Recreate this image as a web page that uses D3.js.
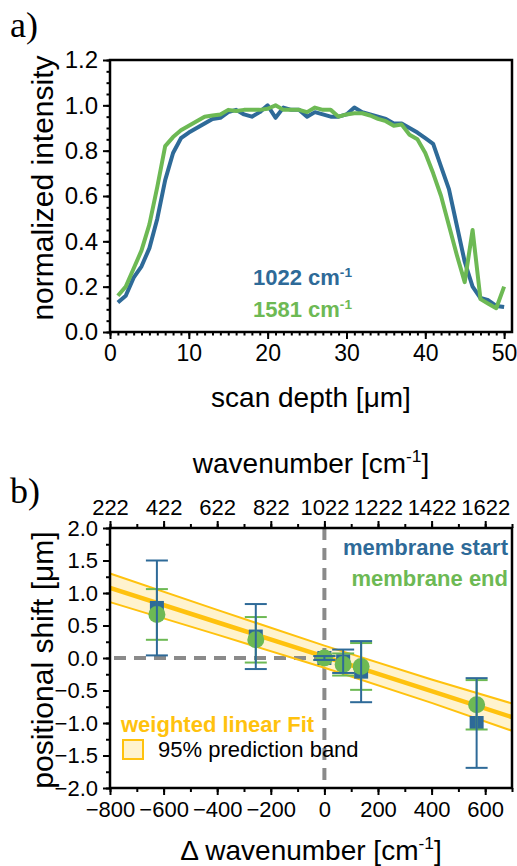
<!DOCTYPE html>
<html><head><meta charset="utf-8">
<script src="https://cdn.jsdelivr.net/npm/d3@7"></script>
<style>
body{margin:0;background:#fff}
svg{display:block}
</style>
</head><body>
<svg id="c" width="517" height="866" font-family="'Liberation Sans',Arial,sans-serif"></svg>
<script>
// ---------- panel a) data ----------
const depth = [1,2,3,4,5,6,7,8,9,10,11,12,13,14,15,16,17,18,19,20,21,22,23,24,25,26,27,28,29,30,31,32,33,34,35,36,37,38,39,40,41,42,43,44,45,46,47,48,49,50];
const int1022 = [0.13,0.16,0.24,0.29,0.37,0.50,0.67,0.79,0.855,0.88,0.90,0.92,0.94,0.945,0.97,0.98,0.96,0.95,0.97,1.00,0.945,0.99,0.98,0.98,0.95,0.97,0.96,0.95,0.95,0.96,0.99,0.97,0.96,0.95,0.94,0.92,0.92,0.90,0.88,0.855,0.83,0.73,0.63,0.47,0.31,0.20,0.15,0.14,0.115,0.11];
const int1581 = [0.16,0.20,0.28,0.36,0.475,0.64,0.82,0.86,0.89,0.91,0.93,0.95,0.955,0.96,0.98,0.975,0.98,0.98,0.98,0.985,1.00,0.98,0.98,0.98,0.97,0.99,0.98,0.98,0.95,0.96,0.965,0.965,0.955,0.94,0.93,0.91,0.915,0.87,0.85,0.79,0.70,0.60,0.47,0.34,0.22,0.45,0.145,0.125,0.105,0.20];
const xTicksA = [0,10,20,30,40,50];
const yTicksA = [0,0.2,0.4,0.6,0.8,1.0,1.2];

// ---------- panel b) data ----------
const deltaWn    = [-625,-256,0,70,137,568];
const shiftStart = [0.77,0.33,0.0,-0.05,-0.21,-1.0];
const errStart   = [0.73,0.50,0.03,0.18,0.47,0.69];
const shiftEnd   = [0.67,0.28,0.0,-0.10,-0.13,-0.72];
const errEnd     = [0.39,0.35,0.03,0.17,0.36,0.38];
const fitX       = [-800,-400,0,400,700];
const fitY       = [1.08,0.55,0.02,-0.51,-0.91];
const bandUpper  = [1.30,0.74,0.19,-0.33,-0.70];
const bandLower  = [0.86,0.36,-0.15,-0.69,-1.12];
const xTicksB = [-800,-600,-400,-200,0,200,400,600];
const yTicksB = [-2,-1.5,-1,-0.5,0,0.5,1,1.5,2];
const wnTicks = [222,422,622,822,1022,1222,1422,1622];

const BLUE = "#2E6A98", GREEN = "#6DB954", YEL = "#FFC20E", BANDFILL = "#FFF3CE", DASH = "#8A8A8A";
const SERIF = "'Liberation Serif','Times New Roman',serif";

const svg = d3.select("#c");

function styleAxis(size){
  return g => {
    g.select(".domain").remove();
    g.selectAll(".tick line").attr("stroke","#000").attr("stroke-width",2);
    g.selectAll(".tick text").attr("font-size",size).attr("fill","#000")
     .attr("font-family","'Liberation Sans',Arial,sans-serif");
  };
}

// ================= panel a =================
const xA = d3.scaleLinear().domain([0,51]).range([110,512]);
const yA = d3.scaleLinear().domain([0,1.2]).range([332,60]);

svg.append("g").attr("transform","translate(0,332)")
  .call(d3.axisBottom(xA).tickValues(d3.range(0,51,1)).tickSize(3.5).tickSizeOuter(0).tickFormat(""))
  .call(styleAxis(23));
svg.append("g").attr("transform","translate(0,332)")
  .call(d3.axisBottom(xA).tickValues(xTicksA).tickSize(7).tickSizeOuter(0).tickPadding(6).tickFormat(d3.format("d")))
  .call(styleAxis(23));
svg.append("g").attr("transform","translate(110,0)")
  .call(d3.axisLeft(yA).tickValues(d3.range(0,1.2001,0.05)).tickSize(3.5).tickSizeOuter(0).tickFormat(""))
  .call(styleAxis(24));
svg.append("g").attr("transform","translate(110,0)")
  .call(d3.axisLeft(yA).tickValues(yTicksA).tickSize(7).tickSizeOuter(0).tickPadding(5).tickFormat(d3.format(".1f")))
  .call(styleAxis(24));

const lineA = d3.line().x((d,i)=>xA(depth[i])).y(d=>yA(d));
svg.append("path").datum(int1022).attr("d",lineA).attr("fill","none")
  .attr("stroke",BLUE).attr("stroke-width",4).attr("stroke-linejoin","round");
svg.append("path").datum(int1581).attr("d",lineA).attr("fill","none")
  .attr("stroke",GREEN).attr("stroke-width",4).attr("stroke-linejoin","round");

svg.append("rect").attr("x",110).attr("y",60).attr("width",402).attr("height",272)
  .attr("fill","none").attr("stroke","#000").attr("stroke-width",2.5);

function supLabel(parent, x, y, pre, sup, post, opts){
  const t = parent.append("text").attr("x",x).attr("y",y)
    .attr("font-size",opts.size).attr("fill",opts.fill||"#000")
    .attr("font-weight",opts.weight||"normal")
    .attr("text-anchor",opts.anchor||"start");
  t.append("tspan").text(pre);
  t.append("tspan").attr("font-size",opts.size*0.62).attr("dy",-opts.size*0.38).text(sup);
  if(post) t.append("tspan").attr("dy",opts.size*0.38).text(post);
  return t;
}
supLabel(svg,253,285,"1022 cm","-1",null,{size:22,fill:BLUE,weight:"bold"});
supLabel(svg,253,317,"1581 cm","-1",null,{size:22,fill:GREEN,weight:"bold"});

svg.append("text").attr("x",53).attr("y",188).attr("text-anchor","middle")
  .attr("transform","rotate(-90,53,188)").attr("font-size",30).text("normalized intensity");
svg.append("text").attr("x",311).attr("y",407).attr("text-anchor","middle")
  .attr("font-size",28).text("scan depth [\u03BCm]");

svg.append("text").attr("x",10).attr("y",37).attr("font-family",SERIF)
  .attr("font-size",36).text("a)");

// ================= panel b =================
const xB = d3.scaleLinear().domain([-800,700]).range([110,512]);
const yB = d3.scaleLinear().domain([-2,2]).range([788,528]);
const xW = d3.scaleLinear().domain([222,1722]).range([110,512]);

const bandArea = d3.area().x((d,i)=>xB(fitX[i])).y0((d,i)=>yB(bandLower[i])).y1(d=>yB(d));
svg.append("path").datum(bandUpper).attr("d",bandArea).attr("fill",BANDFILL);

svg.append("line").attr("x1",xB(0)).attr("x2",xB(0)).attr("y1",yB(2)).attr("y2",yB(-2))
  .attr("stroke",DASH).attr("stroke-width",4).attr("stroke-dasharray","12,8");
svg.append("line").attr("x1",xB(-800)+4).attr("x2",xB(0)).attr("y1",yB(0)).attr("y2",yB(0))
  .attr("stroke",DASH).attr("stroke-width",4).attr("stroke-dasharray","12,8");

const lineB = d3.line().x((d,i)=>xB(fitX[i])).y(d=>yB(d));
svg.append("path").datum(bandUpper).attr("d",lineB).attr("fill","none").attr("stroke",YEL).attr("stroke-width",2);
svg.append("path").datum(bandLower).attr("d",lineB).attr("fill","none").attr("stroke",YEL).attr("stroke-width",2);
svg.append("path").datum(fitY).attr("d",lineB).attr("fill","none").attr("stroke",YEL).attr("stroke-width",4.5);

const pts = svg.append("g");
pts.selectAll("rect.s").data(shiftStart).join("rect").attr("class","s")
  .attr("x",(d,i)=>xB(deltaWn[i])-7).attr("y",d=>yB(d)-7).attr("width",14).attr("height",14).attr("fill",BLUE);
pts.selectAll("circle.e").data(shiftEnd).join("circle").attr("class","e")
  .attr("cx",(d,i)=>xB(deltaWn[i])).attr("cy",d=>yB(d)).attr("r",8.5).attr("fill",GREEN);

function errBars(vals, errs, color){
  const g = svg.append("g").attr("stroke",color).attr("stroke-width",2).attr("fill","none");
  vals.forEach((v,i)=>{
    const x = xB(deltaWn[i]), y1 = yB(v+errs[i]), y2 = yB(v-errs[i]);
    g.append("line").attr("x1",x).attr("x2",x).attr("y1",y1).attr("y2",y2);
    g.append("line").attr("x1",x-11).attr("x2",x+11).attr("y1",y1).attr("y2",y1);
    g.append("line").attr("x1",x-11).attr("x2",x+11).attr("y1",y2).attr("y2",y2);
  });
}
errBars(shiftEnd, errEnd, GREEN);
errBars(shiftStart, errStart, BLUE);

svg.append("g").attr("transform","translate(0,788)")
  .call(d3.axisBottom(xB).tickValues(d3.range(-800,701,100)).tickSize(4).tickSizeOuter(0).tickFormat(""))
  .call(styleAxis(22));
svg.append("g").attr("transform","translate(0,788)")
  .call(d3.axisBottom(xB).tickValues(xTicksB).tickSize(7).tickSizeOuter(0).tickPadding(6).tickFormat(d3.format("d")))
  .call(styleAxis(22));
svg.append("g").attr("transform","translate(110,0)")
  .call(d3.axisLeft(yB).tickValues(d3.range(-2,2.001,0.25)).tickSize(4).tickSizeOuter(0).tickFormat(""))
  .call(styleAxis(22));
svg.append("g").attr("transform","translate(110,0)")
  .call(d3.axisLeft(yB).tickValues(yTicksB).tickSize(7).tickSizeOuter(0).tickPadding(5).tickFormat(d3.format(".1f")))
  .call(styleAxis(22));
svg.append("g").attr("transform","translate(0,528)")
  .call(d3.axisTop(xW).tickValues(d3.range(222,1723,100)).tickSize(4).tickSizeOuter(0).tickFormat(""))
  .call(styleAxis(22));
svg.append("g").attr("transform","translate(0,528)")
  .call(d3.axisTop(xW).tickValues(wnTicks).tickSize(7).tickSizeOuter(0).tickPadding(6).tickFormat(d3.format("d")))
  .call(styleAxis(22));

svg.append("rect").attr("x",110).attr("y",528).attr("width",402).attr("height",260)
  .attr("fill","none").attr("stroke","#000").attr("stroke-width",2.5);

svg.append("text").attr("x",508).attr("y",555).attr("text-anchor","end").attr("font-size",22)
  .attr("font-weight","bold").attr("fill",BLUE).text("membrane start");
svg.append("text").attr("x",508).attr("y",586).attr("text-anchor","end").attr("font-size",22)
  .attr("font-weight","bold").attr("fill",GREEN).text("membrane end");
svg.append("text").attr("x",121).attr("y",732).attr("font-size",22)
  .attr("font-weight","bold").attr("fill",YEL).text("weighted linear Fit");
svg.append("rect").attr("x",123).attr("y",740).attr("width",20).attr("height",19)
  .attr("fill",BANDFILL).attr("stroke",YEL).attr("stroke-width",2);
svg.append("text").attr("x",158).attr("y",757).attr("font-size",22).text("95% prediction band");

svg.append("text").attr("x",53).attr("y",660).attr("text-anchor","middle")
  .attr("transform","rotate(-90,53,660)").attr("font-size",30).text("positional shift [\u03BCm]");
supLabel(svg,311,473,"wavenumber [cm","-1","]",{size:28,anchor:"middle"});
supLabel(svg,311,860,"\u0394 wavenumber [cm","-1","]",{size:28,anchor:"middle"});

svg.append("text").attr("x",10).attr("y",503).attr("font-family",SERIF)
  .attr("font-size",36).text("b)");
</script>
</body></html>
